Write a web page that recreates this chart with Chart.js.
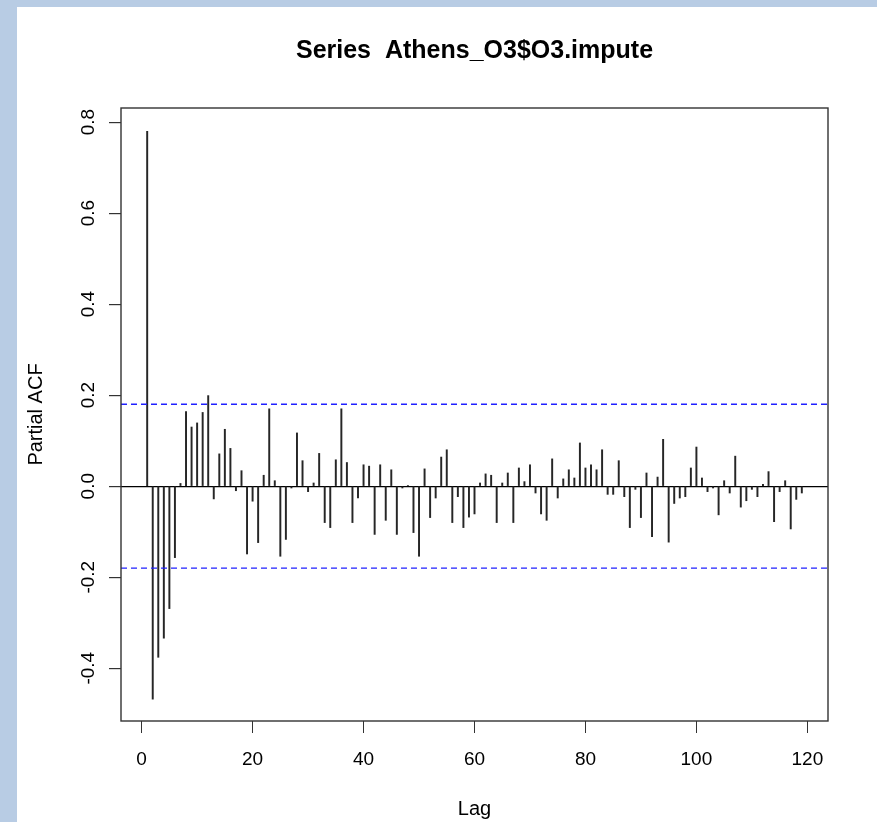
<!DOCTYPE html>
<html>
<head>
<meta charset="utf-8">
<script src="https://cdn.jsdelivr.net/npm/chart.js@4.4.1/dist/chart.umd.min.js"></script>
<style>
  html, body { margin: 0; padding: 0; background: #ffffff; }
  #wrap { position: absolute; left: 0; top: 0; width: 877px; height: 822px; }
</style>
</head>
<body>
<div id="wrap"><canvas id="c" width="877" height="822"></canvas></div>
<script>
// ---- data ----
const chartTitle = "Series  Athens_O3$O3.impute";
const xTitle = "Lag";
const yTitle = "Partial ACF";

const lags = [
  1, 2, 3, 4, 5, 6, 7, 8, 9, 10, 11, 12, 13, 14, 15, 16, 17, 18, 19, 20,
  21, 22, 23, 24, 25, 26, 27, 28, 29, 30, 31, 32, 33, 34, 35, 36, 37, 38, 39, 40,
  41, 42, 43, 44, 45, 46, 47, 48, 49, 50, 51, 52, 53, 54, 55, 56, 57, 58, 59, 60,
  61, 62, 63, 64, 65, 66, 67, 68, 69, 70, 71, 72, 73, 74, 75, 76, 77, 78, 79, 80,
  81, 82, 83, 84, 85, 86, 87, 88, 89, 90, 91, 92, 93, 94, 95, 96, 97, 98, 99, 100,
  101, 102, 103, 104, 105, 106, 107, 108, 109, 110, 111, 112, 113, 114, 115, 116, 117, 118, 119
];

const pacfValues = [
  0.780, -0.468, -0.376, -0.334, -0.269, -0.157, 0.006, 0.164, 0.130, 0.139,
  0.162, 0.199, -0.028, 0.071, 0.125, 0.083, -0.010, 0.034, -0.149, -0.033,
  -0.124, 0.024, 0.170, 0.012, -0.154, -0.117, -0.004, 0.117, 0.056, -0.012,
  0.007, 0.072, -0.080, -0.091, 0.058, 0.170, 0.052, -0.080, -0.026, 0.047,
  0.044, -0.106, 0.047, -0.075, 0.036, -0.106, -0.004, 0.001, -0.102, -0.154,
  0.038, -0.069, -0.026, 0.064, 0.080, -0.080, -0.023, -0.091, -0.068, -0.061,
  0.007, 0.027, 0.024, -0.080, 0.007, 0.029, -0.080, 0.040, 0.010, 0.047,
  -0.015, -0.061, -0.075, 0.060, -0.026, 0.016, 0.036, 0.018, 0.095, 0.040,
  0.047, 0.036, 0.080, -0.018, -0.018, 0.056, -0.023, -0.091, -0.007, -0.069,
  0.029, -0.111, 0.020, 0.103, -0.123, -0.038, -0.026, -0.023, 0.040, 0.086,
  0.018, -0.012, -0.004, -0.063, 0.012, -0.015, 0.066, -0.046, -0.032, -0.007,
  -0.023, 0.004, 0.032, -0.078, -0.012, 0.012, -0.094, -0.029, -0.015
];

const confLimit = 0.18;

const xTicks = [0, 20, 40, 60, 80, 100, 120];
const yTicks = [-0.4, -0.2, 0.0, 0.2, 0.4, 0.6, 0.8];

const xRange = [-3.72, 123.72];
const yRange = [-0.516, 0.831];

// ---- build chart ----
const FONT = "'Liberation Sans', Arial, sans-serif";

const barData = lags.map((l, i) => ({ x: l, y: pacfValues[i] }));
const upperLine = [{ x: xRange[0], y: confLimit }, { x: xRange[1], y: confLimit }];
const lowerLine = [{ x: xRange[0], y: -confLimit }, { x: xRange[1], y: -confLimit }];

const pagePlugin = {
  id: 'page',
  beforeDraw(chart) {
    const ctx = chart.ctx;
    ctx.save();
    ctx.fillStyle = '#ffffff';
    ctx.fillRect(0, 0, chart.width, chart.height);
    ctx.fillStyle = '#b8cce4';
    ctx.fillRect(0, 0, chart.width, 7);
    ctx.fillRect(0, 0, 17, chart.height);
    ctx.restore();
  }
};

const framePlugin = {
  id: 'frame',
  afterDatasetsDraw(chart) {
    const a = chart.chartArea;
    const ctx = chart.ctx;
    ctx.save();
    ctx.strokeStyle = '#333333';
    ctx.lineWidth = 1.4;
    ctx.strokeRect(a.left, a.top, a.right - a.left, a.bottom - a.top);
    ctx.restore();
  }
};

new Chart(document.getElementById('c'), {
  type: 'bar',
  data: {
    datasets: [
      {
        type: 'bar',
        data: barData,
        backgroundColor: '#262626',
        borderWidth: 0,
        barThickness: 1.3,
        order: 2
      },
      {
        type: 'line',
        data: upperLine,
        borderColor: '#2020ff',
        borderWidth: 1.3,
        borderDash: [6, 4],
        pointRadius: 0,
        fill: false,
        order: 1
      },
      {
        type: 'line',
        data: lowerLine,
        borderColor: '#2020ff',
        borderWidth: 1.3,
        borderDash: [6, 4],
        pointRadius: 0,
        fill: false,
        order: 1
      }
    ]
  },
  options: {
    responsive: false,
    animation: false,
    devicePixelRatio: 1,
    layout: { padding: { left: 17, right: 49, top: 0, bottom: 0 } },
    plugins: {
      legend: { display: false },
      tooltip: { enabled: false },
      title: {
        display: true,
        text: chartTitle,
        fullSize: false,
        color: '#000000',
        font: { family: FONT, size: 25, weight: 'bold' },
        padding: { top: 36, bottom: 42 }
      }
    },
    scales: {
      x: {
        type: 'linear',
        min: xRange[0],
        max: xRange[1],
        offset: false,
        afterBuildTicks: (s) => { s.ticks = xTicks.map(v => ({ value: v })); },
        afterFit: (s) => { s.height = 101; },
        grid: {
          offset: false,
          drawOnChartArea: false,
          drawTicks: true,
          tickLength: 12,
          tickColor: '#333333',
          color: 'rgba(0,0,0,0)'
        },
        border: { display: false },
        ticks: {
          color: '#000000',
          font: { family: FONT, size: 19 },
          padding: 15,
          maxRotation: 0,
          minRotation: 0,
          autoSkip: false,
          callback: (v) => String(v)
        },
        title: {
          display: true,
          text: xTitle,
          color: '#000000',
          font: { family: FONT, size: 20 },
          padding: { top: 0, bottom: 1 }
        }
      },
      y: {
        type: 'linear',
        min: yRange[0],
        max: yRange[1],
        afterBuildTicks: (s) => { s.ticks = yTicks.map(v => ({ value: v })); },
        afterFit: (s) => { s.width = 104; },
        grid: {
          drawOnChartArea: true,
          drawTicks: true,
          tickLength: 12,
          tickColor: '#333333',
          lineWidth: 1.2,
          color: (ctx) => (ctx.tick && Math.abs(ctx.tick.value) < 1e-9 ? '#000000' : 'rgba(0,0,0,0)')
        },
        border: { display: false },
        ticks: {
          color: '#000000',
          font: { family: FONT, size: 19 },
          padding: 4,
          minRotation: 90,
          maxRotation: 90,
          crossAlign: 'center',
          autoSkip: false,
          callback: (v) => Number(v).toFixed(1)
        },
        title: {
          display: true,
          text: yTitle,
          color: '#000000',
          font: { family: FONT, size: 20 },
          padding: { top: 7, bottom: 0 }
        }
      }
    }
  },
  plugins: [pagePlugin, framePlugin]
});
</script>
</body>
</html>
